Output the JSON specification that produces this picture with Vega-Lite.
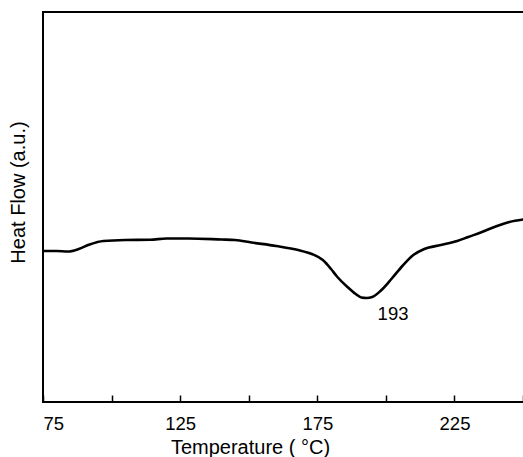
{
  "$schema": "https://vega.github.io/schema/vega-lite/v6.json",
  "autosize": "none",
  "padding": {"left": 43, "top": 12, "right": 0, "bottom": 55},
  "width": 482,
  "height": 390,
  "background": "white",
  "config": {
    "view": {"stroke": "black", "strokeWidth": 2},
    "font": "Liberation Sans"
  },
  "datasets": {
    "curve": [
      {"T": 75, "HF": 151}, {"T": 80, "HF": 151}, {"T": 84, "HF": 150.5}, {"T": 88, "HF": 153},
      {"T": 92, "HF": 157.5}, {"T": 97, "HF": 161}, {"T": 105, "HF": 162}, {"T": 114, "HF": 162.2},
      {"T": 120, "HF": 163.5}, {"T": 128, "HF": 163.5}, {"T": 140, "HF": 162.5}, {"T": 145, "HF": 162},
      {"T": 151, "HF": 159.5}, {"T": 160, "HF": 156}, {"T": 168, "HF": 152}, {"T": 173, "HF": 148},
      {"T": 177, "HF": 142}, {"T": 180, "HF": 133}, {"T": 182, "HF": 126}, {"T": 186, "HF": 115},
      {"T": 189, "HF": 108}, {"T": 191, "HF": 104.5}, {"T": 193, "HF": 104}, {"T": 195, "HF": 105},
      {"T": 198, "HF": 111}, {"T": 202, "HF": 123}, {"T": 206, "HF": 136}, {"T": 210, "HF": 147},
      {"T": 214, "HF": 153}, {"T": 220, "HF": 157}, {"T": 226, "HF": 161}, {"T": 230, "HF": 165},
      {"T": 235, "HF": 170}, {"T": 240, "HF": 175.5}, {"T": 245, "HF": 180}, {"T": 250, "HF": 182.5}
    ],
    "note": [{"T": 202.6, "HF": 88.5, "label": "193"}]
  },
  "layer": [
    {
      "data": {"name": "curve"},
      "mark": {"type": "line", "color": "black", "strokeWidth": 2.6, "interpolate": "monotone", "clip": true},
      "encoding": {
        "x": {
          "field": "T", "type": "quantitative",
          "scale": {"domain": [75, 250.7], "nice": false, "zero": false},
          "axis": {
            "title": "Temperature ( °C)",
            "values": [75, 87.5, 100, 112.5, 125, 137.5, 150, 162.5, 175, 187.5, 200, 212.5, 225, 237.5, 250],
            "labelExpr": "(datum.value - 75) % 50 === 0 && datum.value < 250 ? datum.label : ''",
            "domain": false,
            "grid": false,
            "tickColor": "black",
            "tickWidth": 1.5,
            "tickSize": {"condition": {"test": "datum.value % 25 === 0", "value": -7}, "value": -4},
            "labelFontSize": 18.5,
            "labelColor": "black",
            "labelPadding": 19,
            "labelFlush": true,
            "labelFlushOffset": 0,
            "titleFontSize": 20,
            "titleFontWeight": "normal",
            "titleColor": "black",
            "titleX": 207,
            "titleY": 51,
            "titleBaseline": "alphabetic",
            "titleAlign": "center"
          }
        },
        "y": {
          "field": "HF", "type": "quantitative",
          "scale": {"domain": [0, 390], "nice": false},
          "axis": {
            "title": "Heat Flow (a.u.)",
            "ticks": false, "labels": false, "domain": false, "grid": false,
            "titleFontSize": 20,
            "titleFontWeight": "normal",
            "titleColor": "black",
            "titleX": -25,
            "titleY": 180,
            "titleAngle": -90,
            "titleAlign": "center",
            "titleBaseline": "middle"
          }
        }
      }
    },
    {
      "data": {"name": "note"},
      "mark": {"type": "text", "fontSize": 18.5, "color": "black", "baseline": "middle", "align": "center"},
      "encoding": {
        "x": {"field": "T", "type": "quantitative"},
        "y": {"field": "HF", "type": "quantitative"},
        "text": {"field": "label"}
      }
    }
  ]
}
